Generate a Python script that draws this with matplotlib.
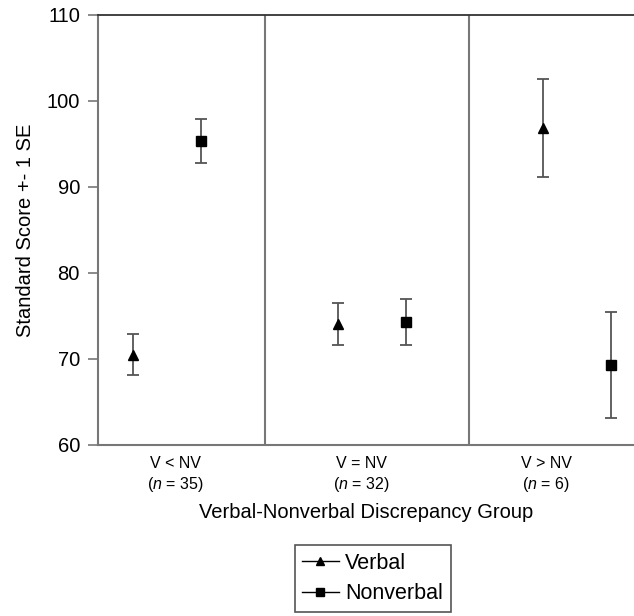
import matplotlib
matplotlib.use("Agg")
import matplotlib.pyplot as plt

plt.rcParams['font.family'] = ['Liberation Sans', 'DejaVu Sans']
plt.rcParams['mathtext.fontset'] = 'custom'
plt.rcParams['mathtext.it'] = 'Liberation Sans:italic'
plt.rcParams['mathtext.rm'] = 'Liberation Sans'

# group positions and data
groups = [1, 2, 3]
group_labels = ["V < NV\n($\\it{n}$ = 35)", "V = NV\n($\\it{n}$ = 32)", "V > NV\n($\\it{n}$ = 6)"]
label_pos = [1.04, 1.95, 2.85]
dividers = [1.478, 2.473]

verbal_mean = [70.5, 74.1, 96.9]
verbal_se = [2.4, 2.45, 5.7]
nonverbal_mean = [95.3, 74.3, 69.3]
nonverbal_se = [2.55, 2.65, 6.2]
offset = 0.167

fig = plt.figure(figsize=(6.34, 6.16), dpi=100)
ax = fig.add_axes([98 / 634, 1 - 445 / 616, 1 - 98 / 634, 430 / 616])

vx = [g - offset for g in groups]
nx_ = [g + offset for g in groups]
ax.errorbar(vx, verbal_mean, yerr=verbal_se, fmt='^', color='black', ms=7.5,
            ecolor='#555555', elinewidth=1.3, capsize=4.3, capthick=1.3)
ax.errorbar(nx_, nonverbal_mean, yerr=nonverbal_se, fmt='s', color='black', ms=7.5,
            ecolor='#555555', elinewidth=1.3, capsize=4.3, capthick=1.3)

for d in dividers:
    ax.axvline(d, color='#777777', lw=1.5)

ax.set_xlim(0.663, 3.278)
ax.set_ylim(60, 110)
ax.set_yticks([60, 70, 80, 90, 100, 110])
ax.set_xticks(label_pos)
ax.set_xticklabels(group_labels, fontsize=11.5, linespacing=1.3)
ax.tick_params(axis='x', length=0, pad=8)
ax.tick_params(axis='y', labelsize=14.5, length=7, width=1.2, color='#777777', pad=6)

for s in ['left', 'bottom']:
    ax.spines[s].set_color('#777777')
    ax.spines[s].set_linewidth(1.5)
ax.spines['top'].set_color('#333333')
ax.spines['top'].set_linewidth(1.3)
ax.spines['right'].set_visible(False)

ax.set_ylabel("Standard Score +- 1 SE", fontsize=14.5, labelpad=8)
ax.set_xlabel("Verbal-Nonverbal Discrepancy Group", fontsize=14.5, labelpad=6)

h1, = ax.plot([], [], '-^', color='black', ms=6, lw=1)
h2, = ax.plot([], [], '-s', color='black', ms=6, lw=1)
leg = fig.legend([h1, h2], ["Verbal", "Nonverbal"], loc='center',
                 bbox_to_anchor=(372.5 / 634, 1 - 578.5 / 616), fontsize=15.5,
                 fancybox=False, framealpha=1, edgecolor='#555555',
                 handlelength=1.7, handletextpad=0.3, borderpad=0.35, labelspacing=0.45)
leg.get_frame().set_linewidth(1.2)

fig.savefig("out.png", dpi=100)
